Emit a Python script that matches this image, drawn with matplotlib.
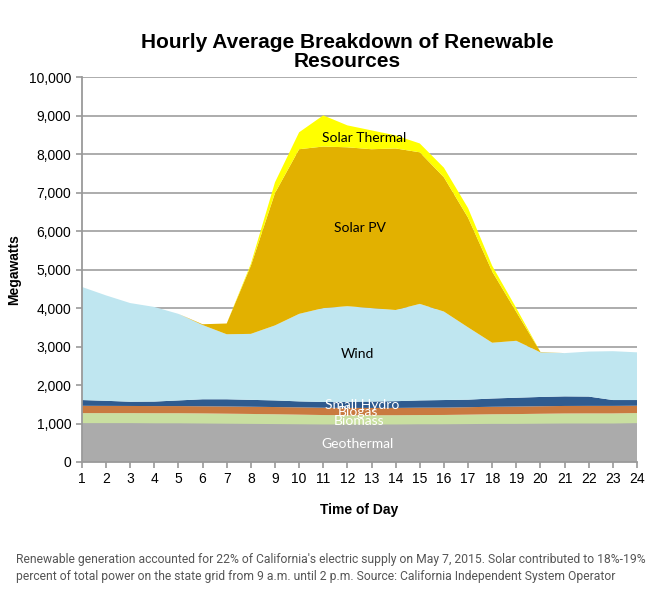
import matplotlib
matplotlib.use("Agg")
import matplotlib.pyplot as plt
import numpy as np
from matplotlib.ticker import FuncFormatter

# hourly values (MW)
hours = list(range(1, 25))
geothermal = [1010, 1010, 1010, 1005, 1005, 1000, 995, 990, 985, 980, 975, 975,
              975, 975, 980, 980, 985, 990, 990, 995, 1000, 1000, 1000, 1010]
biomass = [260, 260, 260, 262, 262, 262, 260, 258, 255, 250, 245, 240,
           240, 240, 240, 242, 245, 250, 255, 258, 260, 262, 262, 262]
biogas = [190, 188, 186, 186, 186, 186, 188, 188, 188, 190, 190, 190,
          190, 190, 192, 192, 194, 195, 196, 196, 196, 196, 196, 190]
small_hydro = [150, 132, 110, 117, 147, 182, 187, 179, 172, 155, 150, 160,
               165, 175, 188, 196, 196, 215, 229, 241, 249, 242, 152, 148]
wind = [2940, 2740, 2565, 2460, 2250, 1930, 1690, 1715, 1950, 2275, 2440, 2485,
        2430, 2370, 2510, 2300, 1880, 1450, 1480, 1160, 1125, 1170, 1270, 1240]
solar_pv = [0, 0, 0, 0, 0, 20, 280, 1770, 3440, 4280, 4200, 4130,
            4130, 4200, 3940, 3490, 2850, 1850, 750, 10, 0, 0, 0, 0]
solar_thermal = [0, 0, 0, 0, 0, 0, 0, 50, 280, 440, 810, 570,
                 490, 340, 230, 250, 250, 150, 100, 0, 0, 0, 0, 0]

colors = ["#ababab", "#c9dfa0", "#c97a40", "#2f5b8f", "#bfe6f0", "#e2b100", "#ffff00"]

fig = plt.figure(figsize=(6.5, 5.9), dpi=100)
ax = fig.add_axes([0.126, 0.217, 0.854, 0.652])

ax.stackplot(hours, geothermal, biomass, biogas, small_hydro, wind, solar_pv,
             solar_thermal, colors=colors, linewidth=0, zorder=2)

ax.set_xlim(1, 24)
ax.set_ylim(0, 10000)
ax.set_xticks(hours)
ax.set_yticks(range(0, 10001, 1000))
ax.yaxis.set_major_formatter(FuncFormatter(lambda v, p: f"{int(v):,}"))
ax.grid(axis="y", color="#a6a6a6", linewidth=1.3, zorder=1)
ax.set_axisbelow(True)
for s in ["top", "right"]:
    ax.spines[s].set_visible(False)
for s in ["left", "bottom"]:
    ax.spines[s].set_color("#9a9a9a")
    ax.spines[s].set_linewidth(1.3)
ax.tick_params(axis="both", colors="#9a9a9a", length=4, width=1.2,
               labelcolor="black", labelsize=10)
for lab in ax.get_xticklabels() + ax.get_yticklabels():
    lab.set_family("Liberation Sans")

ax.set_xlabel("Time of Day", fontsize=10, fontweight="bold",
              family="Liberation Sans", labelpad=12)
ax.set_ylabel("Megawatts", fontsize=10, fontweight="bold",
              family="Liberation Sans", labelpad=6)

fig.text(0.534, 0.88, "Hourly Average Breakdown of Renewable\nResources",
         ha="center", va="bottom", fontsize=15, fontweight="bold",
         family="Liberation Sans", linespacing=1.0)

lbl = dict(ha="center", va="center", fontsize=10, family="Lato")
ax.text(12.7, 8420, "Solar Thermal", color="black", **lbl)
ax.text(12.5, 6080, "Solar PV", color="black", **lbl)
ax.text(12.4, 2800, "Wind", color="black", **lbl)
ax.text(12.6, 1480, "Small Hydro", color="white", **lbl)
ax.text(12.45, 1290, "Biogas", color="white", **lbl)
ax.text(12.5, 1060, "Biomass", color="white", **lbl)
ax.text(12.4, 480, "Geothermal", color="white", **lbl)

fig.text(0.025, 0.012,
         "Renewable generation accounted for 22% of California's electric supply on May 7, 2015. Solar contributed to 18%-19%\n"
         "percent of total power on the state grid from 9 a.m. until 2 p.m. Source: California Independent System Operator",
         ha="left", va="bottom", fontsize=8.7, color="#555555", family="Roboto",
         linespacing=1.35)

fig.savefig("out.png", dpi=100, facecolor="white")
